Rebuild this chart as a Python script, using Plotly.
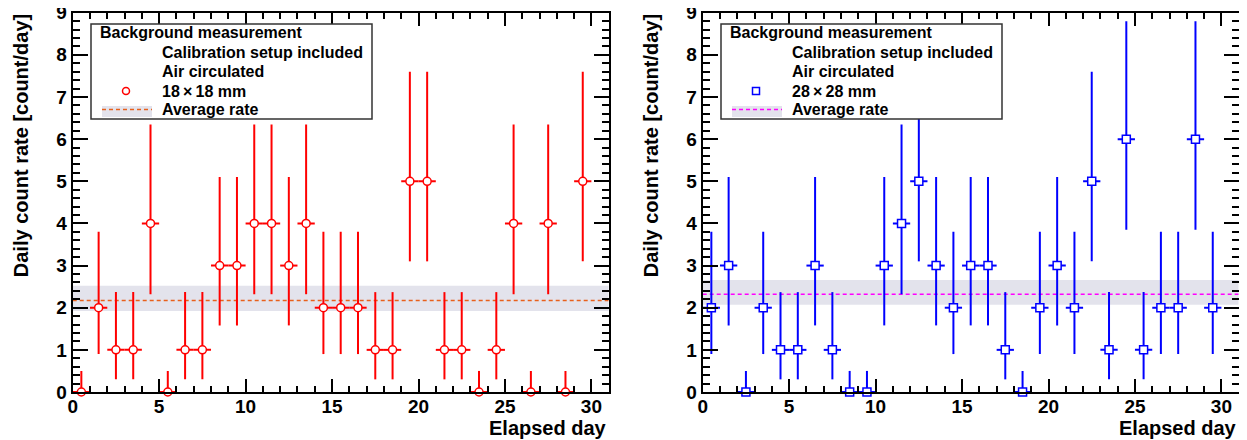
import plotly.graph_objects as go

# ---------------- data ----------------
bin_centers = [0.5, 1.5, 2.5, 3.5, 4.5, 5.5, 6.5, 7.5, 8.5, 9.5,
               10.5, 11.5, 12.5, 13.5, 14.5, 15.5, 16.5, 17.5, 18.5, 19.5,
               20.5, 21.5, 22.5, 23.5, 24.5, 25.5, 26.5, 27.5, 28.5, 29.5]
bin_half_width = 0.5

counts_18 = [0, 2, 1, 1, 4, 0, 1, 1, 3, 3,
             4, 4, 3, 4, 2, 2, 2, 1, 1, 5,
             5, 1, 1, 0, 1, 4, 0, 4, 0, 5]
counts_28 = [2, 3, 0, 2, 1, 1, 3, 1, 0, 0,
             3, 4, 5, 3, 2, 3, 3, 1, 0, 2,
             3, 2, 5, 1, 6, 1, 2, 2, 6, 2]

# Poisson interval half-widths (per count value)
err_low_by_count = {0: 0.0, 1: 0.70, 2: 1.10, 3: 1.42, 4: 1.68, 5: 1.90, 6: 2.15}
err_high_by_count = {0: 0.5, 1: 1.37, 2: 1.80, 3: 2.10, 4: 2.35, 5: 2.60, 6: 2.80}

avg_18 = 2.17
avg_18_band = [1.92, 2.52]
avg_28 = 2.32
avg_28_band = [2.07, 2.66]

x_range = [0, 31]
y_range = [0, 9]
x_ticks = [0, 5, 10, 15, 20, 25, 30]
y_ticks = [0, 1, 2, 3, 4, 5, 6, 7, 8, 9]

legend_header = "Background measurement"
legend_lines = ["Calibration setup included", "Air circulated"]
label_18 = "18\u2009\u00d7\u200918 mm"
label_28 = "28\u2009\u00d7\u200928 mm"
avg_label = "Average rate"
x_title = "Elapsed day"
y_title = "Daily count rate [count/day]"

# ---------------- geometry helpers ----------------
# the page body has an 8px default margin, so the figure is drawn 8px smaller
# and every window-pixel position is shifted by that margin
PAGE_W, PAGE_H = 1247, 440
OFF = 8
W, H = PAGE_W - OFF, PAGE_H - OFF
def px(x):
    return (x - OFF) / W
def py(y):
    return 1 - (y - OFF) / H

FONT = "Liberation Sans, Arial, Helvetica, sans-serif"
BAND = "rgb(227,227,236)"

fig = go.Figure()

panels = [
    dict(counts=counts_18, avg=avg_18, band=avg_18_band, color="#ff0000",
         avg_color="#e8601c", sym_fill="circle",
         label=label_18, xa="x", ya="y", offset=0),
    dict(counts=counts_28, avg=avg_28, band=avg_28_band, color="#0000ff",
         avg_color="#ff00ff", sym_fill="square",
         label=label_28, xa="x2", ya="y2", offset=630),
]

for p in panels:
    # band
    fig.add_trace(go.Scatter(
        x=[x_range[0], x_range[1], x_range[1], x_range[0], x_range[0]],
        y=[p["band"][0], p["band"][0], p["band"][1], p["band"][1], p["band"][0]],
        fill="toself", fillcolor=BAND, line=dict(width=0),
        mode="lines", xaxis=p["xa"], yaxis=p["ya"], showlegend=False, hoverinfo="skip"))
    # average line
    fig.add_trace(go.Scatter(
        x=[x_range[0], x_range[1]], y=[p["avg"], p["avg"]], mode="lines",
        line=dict(color=p["avg_color"], width=1.6, dash="4px,3px"),
        xaxis=p["xa"], yaxis=p["ya"], showlegend=False, hoverinfo="skip"))
    # data points
    lo = [err_low_by_count[c] for c in p["counts"]]
    hi = [err_high_by_count[c] for c in p["counts"]]
    fig.add_trace(go.Scatter(
        x=bin_centers, y=p["counts"], mode="markers",
        marker=dict(symbol=p["sym_fill"], size=8, color="white",
                    line=dict(color=p["color"], width=1.5)),
        error_y=dict(type="data", symmetric=False, array=hi, arrayminus=lo,
                     color=p["color"], thickness=2, width=0),
        error_x=dict(type="constant", value=bin_half_width,
                     color=p["color"], thickness=2, width=0),
        cliponaxis=False,
        xaxis=p["xa"], yaxis=p["ya"], showlegend=False))

common_x = dict(range=x_range, tickvals=x_ticks, ticks="inside", ticklen=13,
                tickwidth=2, tickcolor="black", showline=True, linewidth=2,
                linecolor="black", mirror="allticks", showgrid=False, zeroline=False,
                automargin=False, ticklabeloverflow="allow", ticklabelstandoff=-4,
                tickfont=dict(family=FONT, size=19, color="black", weight="bold"),
                minor=dict(dtick=1, ticks="inside", ticklen=6, tickwidth=2,
                           tickcolor="black", showgrid=False))
common_y = dict(range=y_range, tickvals=y_ticks, ticks="inside", ticklen=15,
                tickwidth=2, tickcolor="black", showline=True, linewidth=2,
                linecolor="black", mirror="allticks", showgrid=False, zeroline=False,
                automargin=False, ticklabeloverflow="allow",
                tickfont=dict(family=FONT, size=19, color="black", weight="bold"),
                minor=dict(dtick=0.2, ticks="inside", ticklen=7, tickwidth=2,
                           tickcolor="black", showgrid=False))

fig.update_layout(
    width=W, height=H,
    margin=dict(l=0, r=0, t=0, b=0, autoexpand=False),
    paper_bgcolor="white", plot_bgcolor="white",
    showlegend=False,
    xaxis=dict(domain=[px(72.7), px(608.7)], anchor="y", **common_x),
    yaxis=dict(domain=[py(392), py(12.7)], anchor="x", **common_y),
    xaxis2=dict(domain=[px(702.7), px(1238.7)], anchor="y2", **common_x),
    yaxis2=dict(domain=[py(392), py(12.7)], anchor="x2", **common_y),
)

shapes = []
annotations = []
LF = dict(family=FONT, size=16, color="black", weight="bold")
for p in panels:
    o = p["offset"]
    # axis titles
    annotations.append(dict(x=px(608.7 + o), y=py(428), xref="paper", yref="paper",
                            text=x_title, showarrow=False, xanchor="right", yanchor="middle",
                            font=dict(family=FONT, size=20, color="black", weight="bold")))
    annotations.append(dict(x=px(21 + o), y=py(12.7), xref="paper", yref="paper",
                            text=y_title, showarrow=False, textangle=-90,
                            xanchor="center", yanchor="top",
                            font=dict(family=FONT, size=20, color="black", weight="bold")))
    # legend box
    shapes.append(dict(type="rect", xref="paper", yref="paper",
                       x0=px(91 + o), x1=px(372 + o), y0=py(119), y1=py(24),
                       line=dict(color="#333333", width=1.5), fillcolor="white"))
    annotations.append(dict(x=px(98 + o), y=py(33), xref="paper", yref="paper",
                            text=legend_header, showarrow=False, xanchor="left", yanchor="middle",
                            font=LF))
    for i, t in enumerate(legend_lines):
        annotations.append(dict(x=px(160 + o), y=py(52 + 19.5 * i), xref="paper", yref="paper",
                                text=t, showarrow=False, xanchor="left", yanchor="middle",
                                font=LF))
    annotations.append(dict(x=px(160 + o), y=py(91), xref="paper", yref="paper",
                            text=p["label"], showarrow=False, xanchor="left", yanchor="middle",
                            font=LF))
    annotations.append(dict(x=px(160 + o), y=py(109), xref="paper", yref="paper",
                            text=avg_label, showarrow=False, xanchor="left", yanchor="middle",
                            font=LF))
    # legend marker
    shapes.append(dict(type="circle" if p["sym_fill"] == "circle" else "rect",
                       xref="paper", yref="paper",
                       x0=px(122.5 + o), x1=px(129.5 + o), y0=py(94.5), y1=py(87.5),
                       line=dict(color=p["color"], width=1.5), fillcolor="white"))
    # legend band + dashed line
    shapes.append(dict(type="rect", xref="paper", yref="paper",
                       x0=px(102 + o), x1=px(152 + o), y0=py(117), y1=py(106),
                       line=dict(width=0), fillcolor=BAND))
    shapes.append(dict(type="line", xref="paper", yref="paper",
                       x0=px(102 + o), x1=px(152 + o), y0=py(109.5), y1=py(109.5),
                       line=dict(color=p["avg_color"], width=1.6, dash="4px,3px")))

fig.update_layout(shapes=shapes, annotations=annotations)

fig.write_html("out.html")
